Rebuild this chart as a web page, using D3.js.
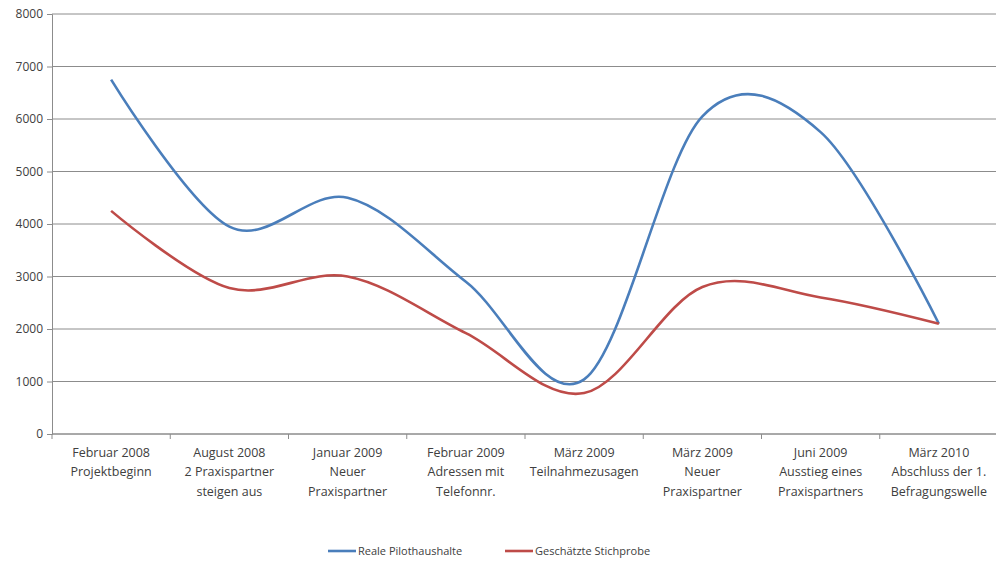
<!DOCTYPE html>
<html>
<head>
<meta charset="utf-8">
<script src="https://cdn.jsdelivr.net/npm/d3@7"></script>
<style>
  body { margin: 0; background: #fff; }
  text { font-family: "Open Sans", "Liberation Sans", sans-serif; fill: #404040; }
</style>
</head>
<body>
<svg id="chart" width="996" height="565"></svg>
<script>
const categories = [
  ["Februar 2008", "Projektbeginn"],
  ["August 2008", "2 Praxispartner", "steigen aus"],
  ["Januar 2009", "Neuer", "Praxispartner"],
  ["Februar 2009", "Adressen mit", "Telefonnr."],
  ["März 2009", "Teilnahmezusagen"],
  ["März 2009", "Neuer", "Praxispartner"],
  ["Juni 2009", "Ausstieg eines", "Praxispartners"],
  ["März 2010", "Abschluss der 1.", "Befragungswelle"]
];
const realePilothaushalte = [6750, 3950, 4500, 2900, 1040, 6050, 5750, 2100];
const geschaetzteStichprobe = [4250, 2780, 3000, 1920, 780, 2800, 2600, 2100];
const yTicks = [0, 1000, 2000, 3000, 4000, 5000, 6000, 7000, 8000];
const seriesNames = ["Reale Pilothaushalte", "Geschätzte Stichprobe"];
const seriesColors = ["#4a7ebb", "#be4b48"];

let svg = d3.select("#chart");
let plotLeft = 52, plotRight = 998, plotTop = 14, plotBottom = 434;

let x = d3.scaleBand()
          .domain(d3.range(categories.length))
          .range([plotLeft, plotRight]);

let y = d3.scaleLinear()
          .domain([0, 8000])
          .range([plotBottom, plotTop]);

// gridlines
svg.append("g")
   .selectAll("line")
   .data(yTicks)
   .enter()
   .append("line")
   .attr("x1", plotLeft)
   .attr("x2", plotRight)
   .attr("y1", d => y(d))
   .attr("y2", d => y(d))
   .attr("stroke", "#8c8c8c")
   .attr("stroke-width", 1);

// y axis
let yAxis = svg.append("g")
               .attr("transform", "translate(" + plotLeft + ",0)")
               .call(d3.axisLeft(y).tickValues(yTicks).tickSize(5).tickPadding(4).tickFormat(d3.format("d")));
yAxis.select(".domain").attr("stroke", "#8c8c8c");
yAxis.selectAll(".tick line").attr("stroke", "#8c8c8c");
yAxis.selectAll("text").attr("font-size", "12px").attr("fill", "#404040")
     .style("font-family", "'Open Sans', sans-serif");

// x axis line + ticks at category boundaries
svg.append("line")
   .attr("x1", plotLeft).attr("x2", plotRight)
   .attr("y1", plotBottom).attr("y2", plotBottom)
   .attr("stroke", "#8c8c8c");
svg.append("g")
   .selectAll("line")
   .data(d3.range(categories.length + 1))
   .enter()
   .append("line")
   .attr("x1", d => plotLeft + d * x.step())
   .attr("x2", d => plotLeft + d * x.step())
   .attr("y1", plotBottom)
   .attr("y2", plotBottom + 5)
   .attr("stroke", "#8c8c8c");

// x labels
let labels = svg.append("g")
                .selectAll("text")
                .data(categories)
                .enter()
                .append("text")
                .attr("text-anchor", "middle")
                .attr("font-size", "12.5px");
labels.selectAll("tspan")
      .data((d, i) => d.map(line => ({ line: line, i: i })))
      .enter()
      .append("tspan")
      .attr("x", d => x(d.i) + x.bandwidth() / 2)
      .attr("y", (d, j) => 457 + j * 19.3)
      .text(d => d.line);

// lines
let line = d3.line()
             .x((d, i) => x(i) + x.bandwidth() / 2)
             .y(d => y(d))
             .curve(d3.curveCardinal.tension(0));

[realePilothaushalte, geschaetzteStichprobe].forEach((series, k) => {
  svg.append("path")
     .datum(series)
     .attr("d", line)
     .attr("fill", "none")
     .attr("stroke", seriesColors[k])
     .attr("stroke-width", 2.6)
     .attr("stroke-linejoin", "round");
});

// legend
let legendX = [328, 505];
seriesNames.forEach((name, k) => {
  svg.append("line")
     .attr("x1", legendX[k]).attr("x2", legendX[k] + 28)
     .attr("y1", 551).attr("y2", 551)
     .attr("stroke", seriesColors[k])
     .attr("stroke-width", 2.6);
  svg.append("text")
     .attr("x", legendX[k] + 30)
     .attr("y", 555)
     .attr("font-size", "11px")
     .text(name);
});
</script>
</body>
</html>
